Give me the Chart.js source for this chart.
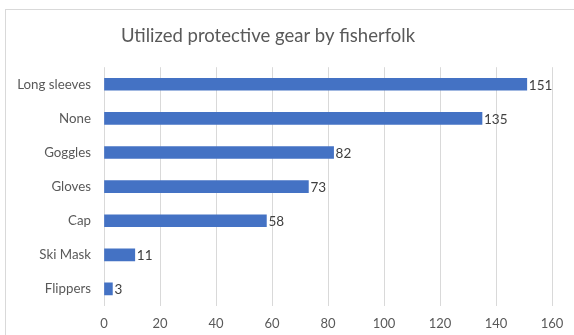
<!DOCTYPE html>
<html>
<head>
<meta charset="utf-8">
<script src="https://cdn.jsdelivr.net/npm/chart.js@4.4.0/dist/chart.umd.min.js"></script>
<style>
  html, body { margin: 0; padding: 0; background: #fff; }
  #frame {
    position: absolute; left: 5px; top: 9px; width: 600px; height: 400px;
    border: 1px solid #d9d9d9; box-sizing: border-box;
  }
  #wrap { position: absolute; left: 0; top: 0; width: 574px; height: 335px; }
</style>
</head>
<body>
<div id="frame"></div>
<div id="wrap"><canvas id="chart"></canvas></div>
<script>
// Chart data
const categories = ['Long sleeves', 'None', 'Goggles', 'Gloves', 'Cap', 'Ski Mask', 'Flippers'];
const counts = [151, 135, 82, 73, 58, 11, 3];
const xTicks = [0, 20, 40, 60, 80, 100, 120, 140, 160];

const FONT = 'Lato, "Open Sans", sans-serif';

// Draw the value next to the end of each bar
const valueLabels = {
    id: 'valueLabels',
    afterDatasetsDraw(chart) {
        const ctx = chart.ctx;
        const meta = chart.getDatasetMeta(0);
        ctx.save();
        ctx.font = '13.5px ' + FONT;
        ctx.fillStyle = '#404040';
        ctx.textAlign = 'left';
        ctx.textBaseline = 'middle';
        meta.data.forEach((bar, i) => {
            ctx.fillText(String(chart.data.datasets[0].data[i]), bar.x + 2, bar.y + 1);
        });
        ctx.restore();
    }
};

const ctx = document.getElementById('chart').getContext('2d');
new Chart(ctx, {
    type: 'bar',
    data: {
        labels: categories,
        datasets: [{
            label: 'Fisherfolk',
            data: counts,
            backgroundColor: '#4472C4',
            barThickness: 12
        }]
    },
    options: {
        indexAxis: 'y',
        responsive: true,
        maintainAspectRatio: false,
        animation: false,
        // negative left padding shifts the title centre to match the original
        layout: { padding: { left: -16, right: 22, top: 9, bottom: 0 } },
        plugins: {
            legend: { display: false },
            tooltip: { enabled: false },
            title: {
                display: true,
                text: 'Utilized protective gear by fisherfolk',
                color: '#595959',
                font: { family: FONT, size: 18.5, weight: 'normal' },
                padding: { top: 16, bottom: 20 }
            }
        },
        scales: {
            x: {
                min: 0,
                max: 160,
                afterBuildTicks(scale) {
                    scale.ticks = xTicks.map(v => ({ value: v }));
                },
                afterFit(scale) { scale.height = 29; },
                grid: { color: '#d9d9d9', drawTicks: false, lineWidth: 1 },
                border: { display: false },
                ticks: {
                    color: '#595959',
                    font: { family: FONT, size: 13 },
                    padding: 10
                }
            },
            y: {
                grid: { display: false, drawTicks: false },
                border: { display: false },
                afterFit(scale) { scale.width = 120; },
                ticks: {
                    color: '#595959',
                    font: { family: FONT, size: 13.3 },
                    padding: 13
                }
            }
        }
    },
    plugins: [valueLabels]
});
</script>
</body>
</html>
